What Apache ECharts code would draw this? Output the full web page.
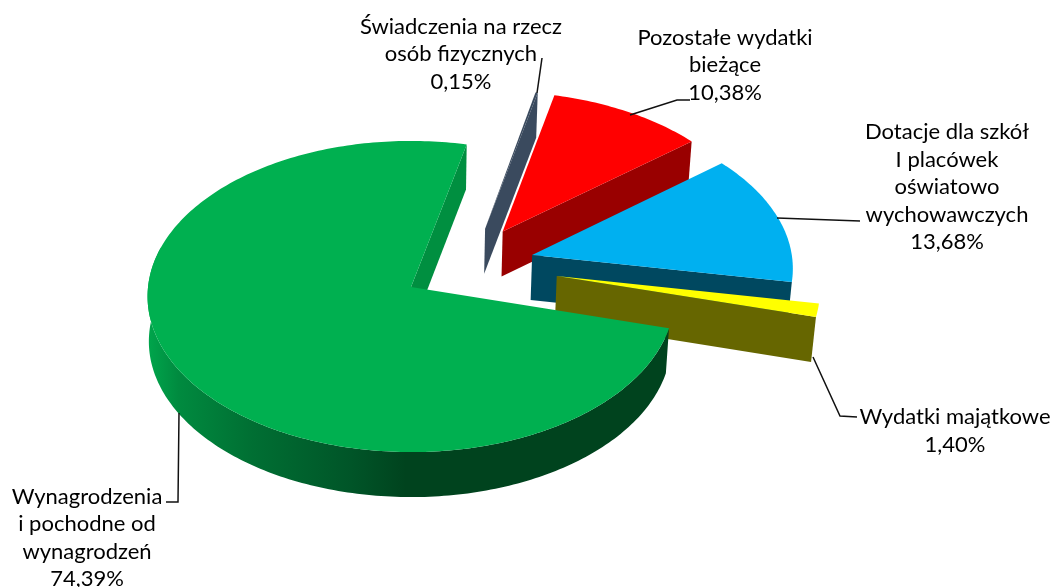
<!DOCTYPE html>
<html>
<head>
<meta charset="utf-8">
<style>html,body{margin:0;padding:0;background:#fff}#chart{width:1053px;height:587px}</style>
<script src="https://cdn.jsdelivr.net/npm/echarts@6/dist/echarts.min.js"></script>
</head>
<body>
<div id="chart"></div>
<script>
// slices clockwise, starting from the big green one
const labels = [
  "Wynagrodzenia\ni pochodne od\nwynagrodzeń",
  "Świadczenia na rzecz\nosób fizycznych",
  "Pozostałe wydatki\nbieżące",
  "Dotacje dla szkół\nI placówek\noświatowo\nwychowawczych",
  "Wydatki majątkowe"
];
const values = [74.39, 0.15, 10.38, 13.68, 1.40];

const topColors = ["#00b050", "#3a4a5e", "#ff0000", "#00b0f0", "#ffff00"];
const wallColors = ["#00431e", "#3a4a5e", "#990000", "#004860", "#666600"];
const cutColors = ["#008f40", "#3a4a5e", "#990000", "#004860", "#666600"];

// explosion of each slice on the disk plane (u right, v towards the viewer)
const explodeU = [0.0115, 0.30, 0.368, 0.478, 0.568];
const explodeV = [0, -0.385, -0.366, -0.209, -0.0705];
const drawOrder = [10, 1, 2, 3, 4];

// label centres and leader lines
const labelX = [87, 461, 725, 947, 955];
const labelY = [538, 54, 65, 187, 431];
const leaders = [
  [[179, 413], [178, 502], [166, 502]],
  [[537, 93], [542, 58]],
  [[630, 115], [677, 100], [690, 100]],
  [[777, 218], [860, 221]],
  [[813, 357], [840, 416], [857, 417]]
];

// perspective projection of the disk
const cx = 408, cy = 287, ax = 263, ay = 155, persp = 0.0611;
const depth = 45, startDeg = 105.2;
const convergeRight = 0.012, convergeLeft = 0.005;

function project(u, v) {
  const w = 1 - persp * v;
  return [cx + ax * u / w, cy + ay * v / w];
}
function lower(p) {
  const c = p[0] > cx ? convergeRight : convergeLeft;
  return [p[0] - (p[0] - cx) * c, p[1] + depth];
}

const total = values.reduce((a, b) => a + b, 0);

function renderItem(params, api) {
  const i = params.dataIndex;
  let before = 0;
  for (let k = 0; k < i; k++) before += values[k];
  const a1 = startDeg + before / total * 360;
  const a2 = a1 + api.value(0) / total * 360;
  const edge = (deg) => {
    const r = deg * Math.PI / 180;
    return project(explodeU[i] + Math.sin(r), explodeV[i] - Math.cos(r));
  };
  const apex = project(explodeU[i], explodeV[i]);
  const z = drawOrder[i];
  const children = [];

  // radial cut at the clockwise end
  const p2 = edge(a2);
  if (Math.sin(a2 * Math.PI / 180) > 0) {
    children.push({
      type: "polygon",
      z2: z,
      shape: { points: [apex, p2, lower(p2), lower(apex)] },
      style: { fill: cutColors[i] }
    });
  }

  // outer wall, only the part facing the viewer
  const from = Math.max(a1, 90), to = Math.min(a2, 285);
  if (to > from) {
    const upper = [];
    for (let d = from; d <= to; d += 1) upper.push(edge(d));
    upper.push(edge(to));
    const bottom = upper.map(lower).reverse();
    children.push({
      type: "polygon",
      z2: z,
      shape: { points: upper.concat(bottom) },
      style: {
        fill: i === 0
          ? new echarts.graphic.LinearGradient(0, 0, 1, 0, [
              { offset: 0, color: "#00a64c" },
              { offset: 0.06, color: "#008a3f" },
              { offset: 0.2, color: "#006f33" },
              { offset: 0.39, color: "#005528" },
              { offset: 0.495, color: "#00431e" },
              { offset: 1, color: "#00431e" }
            ])
          : wallColors[i]
      }
    });
  }

  // top face
  const pts = [apex];
  for (let d = a1; d < a2; d += 1) pts.push(edge(d));
  pts.push(p2);
  children.push({
    type: "polygon",
    z2: z + 1,
    shape: { points: pts },
    style: { fill: topColors[i] }
  });

  children.push({
    type: "polyline",
    z2: 20,
    shape: { points: leaders[i] },
    style: { stroke: "#111", lineWidth: 1.5, fill: null }
  });
  children.push({
    type: "text",
    z2: 21,
    style: {
      x: labelX[i],
      y: labelY[i],
      text: labels[i] + "\n" + api.value(0).toFixed(2).replace(".", ",") + "%",
      align: "center",
      verticalAlign: "middle",
      font: '22px Lato',
      lineHeight: 27.5,
      fill: "#000"
    }
  });
  return { type: "group", children };
}

const chart = echarts.init(document.getElementById("chart"));
chart.setOption({
  animation: false,
  backgroundColor: "#fff",
  series: [{
    type: "custom",
    coordinateSystem: "none",
    renderItem,
    data: values.map((v) => [v])
  }]
});
</script>
</body>
</html>
